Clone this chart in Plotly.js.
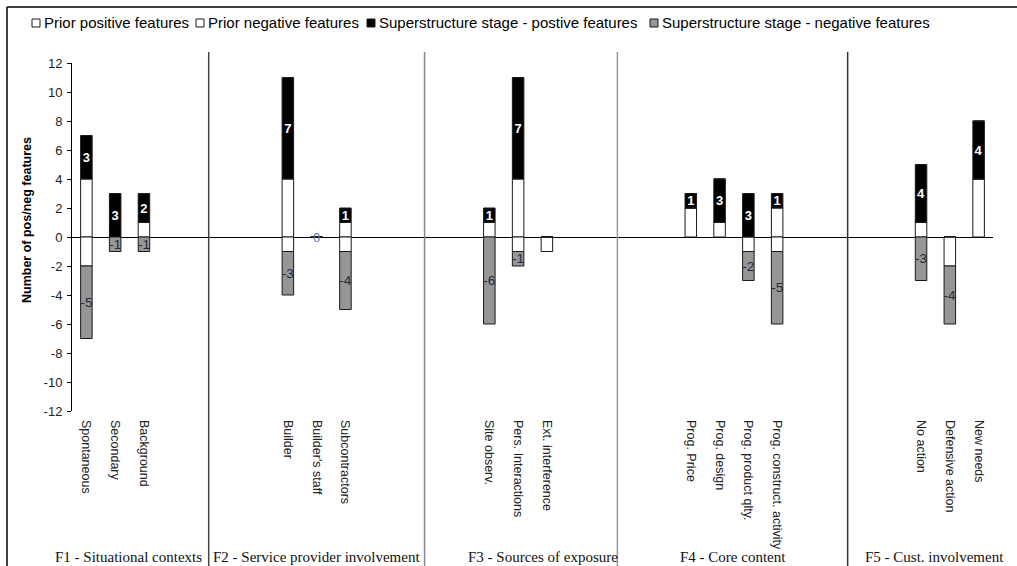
<!DOCTYPE html>
<html>
<head>
<meta charset="utf-8">
<script src="https://cdn.plot.ly/plotly-3.0.1.min.js"></script>
<style>html,body{margin:0;padding:0;background:#fff;}#chart{width:1017px;height:566px;}</style>
</head>
<body>
<div id="chart"></div>
<script>
// ---- data ----
var categories = ['Spontaneous','Secondary','Background',
  'Builder',"Builder's staff",'Subcontractors',
  'Site observ.','Pers. Interactions','Ext. interference',
  'Prog. Price','Prog. design','Prog. product qlty.','Prog. construct. activity',
  'No action','Defensive action','New needs'];
var groupNames = ['F1 - Situational contexts','F2 - Service provider involvement',
  'F3 - Sources of exposure','F4 - Core content','F5 - Cust. involvement'];
var groupSizes = [3,3,3,4,3];
var priorPos = [4,0,1, 4,0,1, 1,4,0, 2,1,0,2, 1,0,4];
var priorNeg = [-2,0,0, -1,0,-1, 0,-1,-1, 0,0,-1,-1, 0,-2,0];
var superPos = [3,3,2, 7,0,1, 1,7,0, 1,3,3,1, 4,0,4];
var superNeg = [-5,-1,-1, -3,0,-4, -6,-1,0, 0,0,-2,-5, -3,-4,0];
var seriesNames = ['Prior positive features','Prior negative features',
  'Superstructure stage - postive features','Superstructure stage - negative features'];
var yTickVals = [12,10,8,6,4,2,0,-2,-4,-6,-8,-10,-12];
var yTickText = ['12','10','8','6','4','2','0','-2','-4','-6','-8','-10','-12'];

// ---- layout helpers ----
var GAP = 4; // empty slots between factor groups
var pos = [];
var p = 0;
groupSizes.forEach(function(n){
  for (var k = 0; k < n; k++) { pos.push(p); p++; }
  p += GAP;
});
var ML = 72, MR = 24, MT = 63, MB = 155, W = 1017, H = 566;
var PW = W - ML - MR, PH = H - MT - MB;
function px2paperX(px){ return (px - ML) / PW; }
function px2paperY(py){ return (H - MB - py) / PH; }

var fills = ['#ffffff','#ffffff','#000000','#969696'];
var outline = {color:'#1a1a1a', width:1};
function txt(arr){ return arr.map(function(v){ return v === 0 ? '' : String(v); }); }

var traces = [
  {type:'bar', x:pos, y:priorPos, name:seriesNames[0], width:0.4,
   marker:{color:fills[0], line:outline}, hoverinfo:'skip'},
  {type:'bar', x:pos, y:priorNeg, name:seriesNames[1], width:0.4,
   marker:{color:fills[1], line:outline}, hoverinfo:'skip'},
  {type:'bar', x:pos, y:superPos, name:seriesNames[2], width:0.4,
   marker:{color:fills[2], line:outline}, text:txt(superPos),
   textposition:'inside', insidetextanchor:'middle', constraintext:'none',
   textfont:{family:'Arial, Liberation Sans, sans-serif', size:13, color:'#ffffff', weight:'bold'},
   hoverinfo:'skip'},
  {type:'bar', x:pos, y:superNeg, name:seriesNames[3], width:0.4,
   marker:{color:fills[3], line:outline}, text:txt(superNeg),
   textposition:'inside', insidetextanchor:'middle', constraintext:'none',
   textfont:{family:'Arial, Liberation Sans, sans-serif', size:13.5, color:'#1f2a40'},
   hoverinfo:'skip'}
];

var shapes = [];
var annotations = [];

// outer frame (top and left)
shapes.push({type:'line', xref:'paper', yref:'paper', x0:px2paperX(7), x1:px2paperX(1020),
  y0:px2paperY(7), y1:px2paperY(7), line:{color:'#000', width:1.5}});
shapes.push({type:'line', xref:'paper', yref:'paper', x0:px2paperX(7), x1:px2paperX(7),
  y0:px2paperY(7), y1:px2paperY(570), line:{color:'#000', width:1.5}});

// group separators
var sepX = [4.25, 11.75, 18.45, 26.45];
var sepColors = ['#444','#888','#999','#333'];
sepX.forEach(function(x, i){
  shapes.push({type:'line', xref:'x', yref:'paper', x0:x, x1:x,
    y0:px2paperY(52), y1:px2paperY(570), line:{color:sepColors[i], width:1.5}});
});

// group labels
var groupLabelX = [1.45, 8.0, 15.86, 22.47, 29.45];
groupNames.forEach(function(g, i){
  annotations.push({xref:'x', yref:'paper', x:groupLabelX[i], y:px2paperY(557),
    text:g, showarrow:false, xanchor:'center', yanchor:'middle',
    font:{family:'Times New Roman, Liberation Serif, serif', size:15, color:'#111'}});
});

// zero labels where a category has no features at all
categories.forEach(function(c, i){
  if (priorPos[i] === 0 && priorNeg[i] === 0 && superPos[i] === 0 && superNeg[i] === 0) {
    annotations.push({xref:'x', yref:'y', x:pos[i], y:0, text:'0', showarrow:false,
      yanchor:'middle', xanchor:'center',
      font:{family:'Arial, Liberation Sans, sans-serif', size:13, color:'#5a72a6'}});
  }
});

// y-axis title
annotations.push({xref:'paper', yref:'paper', x:px2paperX(27), y:px2paperY(220),
  text:'Number of pos/neg features', textangle:-90, showarrow:false,
  xanchor:'center', yanchor:'middle',
  font:{family:'Arial, Liberation Sans, sans-serif', size:12.5, color:'#000', weight:'bold'}});

// manual legend
var legBoxX = [32, 196, 367, 650];
seriesNames.forEach(function(n, i){
  shapes.push({type:'rect', xref:'paper', yref:'paper',
    x0:px2paperX(legBoxX[i]), x1:px2paperX(legBoxX[i] + 8),
    y0:px2paperY(27), y1:px2paperY(19),
    fillcolor:fills[i], line:{color:'#1a1a1a', width:1}});
  annotations.push({xref:'paper', yref:'paper', x:px2paperX(legBoxX[i] + 10), y:px2paperY(23),
    text:n, showarrow:false, xanchor:'left', yanchor:'middle',
    font:{family:'Arial, Liberation Sans, sans-serif', size:15, color:'#000'}});
});

var layout = {
  width:W, height:H,
  margin:{l:ML, r:MR, t:MT, b:MB, pad:0},
  paper_bgcolor:'#fff', plot_bgcolor:'#fff',
  barmode:'relative',
  showlegend:false,
  font:{family:'Arial, Liberation Sans, sans-serif', color:'#222'},
  xaxis:{range:[-0.5, pos[pos.length-1] + 0.5], tickmode:'array', tickvals:pos, ticktext:categories,
    tickangle:90, showgrid:false, zeroline:false, showline:false, ticks:'',
    ticklabelstandoff:8, tickfont:{size:12.5, color:'#222'}, fixedrange:true},
  yaxis:{range:[-12, 12], tickmode:'array', tickvals:yTickVals, ticktext:yTickText,
    showgrid:false, showline:true, linecolor:'#000', linewidth:1,
    ticks:'outside', ticklen:4, tickcolor:'#000', tickfont:{size:13, color:'#222'},
    ticklabelstandoff:2,
    zeroline:true, zerolinecolor:'#000', zerolinewidth:1, fixedrange:true},
  shapes:shapes,
  annotations:annotations,
  hovermode:false
};

Plotly.newPlot('chart', traces, layout, {displayModeBar:false, staticPlot:true});
</script>
</body>
</html>
